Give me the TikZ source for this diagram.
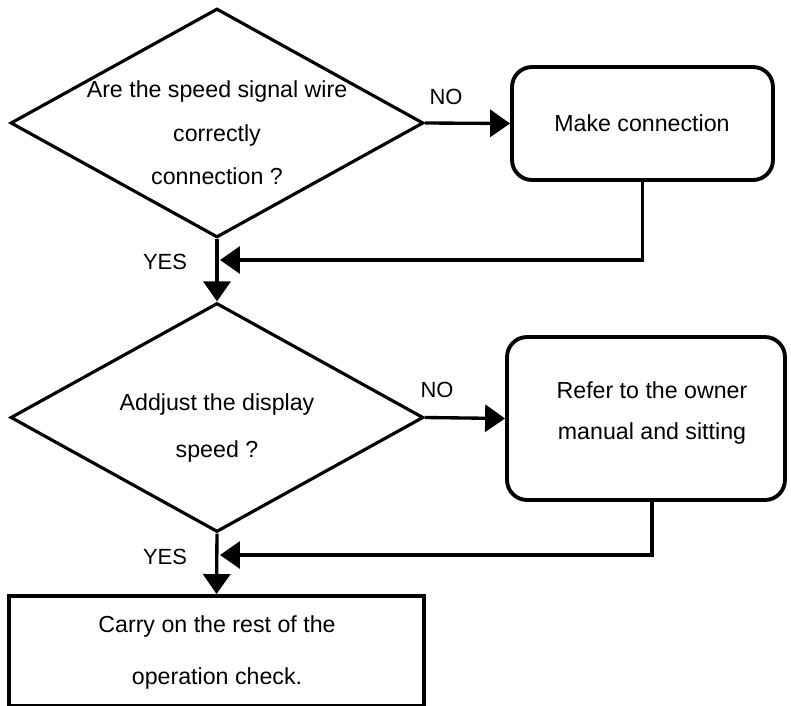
\documentclass[tikz,border=0pt]{standalone}
\usepackage{fontspec}
\setmainfont{Liberation Sans}
\usetikzlibrary{shapes.geometric,arrows.meta}
\tikzset{
  decision/.style={diamond, draw, line width=1.8pt, minimum width=8.26cm, minimum height=4.58cm, inner sep=0pt},
  action/.style={draw, rounded corners=0.4cm, line width=2.2pt, inner sep=0pt},
  endbox/.style={draw, line width=2.2pt, inner sep=0pt},
  txt/.style={align=center, inner sep=0pt},
  lbl/.style={font=\fontsize{12.5}{15}\selectfont, inner sep=0pt},
  arr/.style={line width=1.9pt, -{Triangle[length=0.4cm,width=0.54cm]}}
}
\begin{document}
\begin{tikzpicture}[x=0.02cm, y=-0.02cm]
  \useasboundingbox (0,0) rectangle (791,706);
  % first check
  \node[decision] (chk) at (217,123) {};
  \node[txt, font=\fontsize{13.2}{24.7}\selectfont] (chktext) at (217,133)
    {Are the speed signal wire\\correctly\\connection ?};
  \node[action, minimum width=5.22cm, minimum height=2.26cm] (fix) at (642.5,123.5) {};
  \node[txt, font=\fontsize{13.2}{16}\selectfont] (fixtext) at (642,123) {Make connection};
  % second check
  \node[decision] (disp) at (217,417.5) {};
  \node[txt, font=\fontsize{13.2}{27.3}\selectfont] (disptext) at (217,428)
    {Addjust the display\\speed ?};
  \node[action, minimum width=5.56cm, minimum height=3.26cm] (ref) at (646,418.5) {};
  \node[txt, font=\fontsize{13.2}{23.9}\selectfont] (reftext) at (652,413)
    {Refer to the owner\\manual and sitting};
  % last step
  \node[endbox, minimum width=8.3cm, minimum height=2.2cm] (done) at (216.5,651) {};
  \node[txt, font=\fontsize{13.2}{29.6}\selectfont] (donetext) at (217,652)
    {Carry on the rest of the\\operation check.};
  % branch labels
  \node[lbl] (no1) at (446,97) {NO};
  \node[lbl] (no2) at (437,390) {NO};
  \node[lbl] (yes1) at (165,262) {YES};
  \node[lbl] (yes2) at (165,557) {YES};
  % connectors
  \coordinate (back1) at (220,260);
  \coordinate (back2) at (220,555);
  \draw[arr] (chk.east) -- (fix.west);
  \draw[arr] (chk.south) -- (disp.north);
  \draw[arr] (fix.south) |- (back1);
  \draw[arr] (disp.east) -- (ref.west);
  \draw[arr] (disp.south) -- (done.north);
  \draw[arr] ([xshift=0.12cm]ref.south) |- (back2);
\end{tikzpicture}
\end{document}
